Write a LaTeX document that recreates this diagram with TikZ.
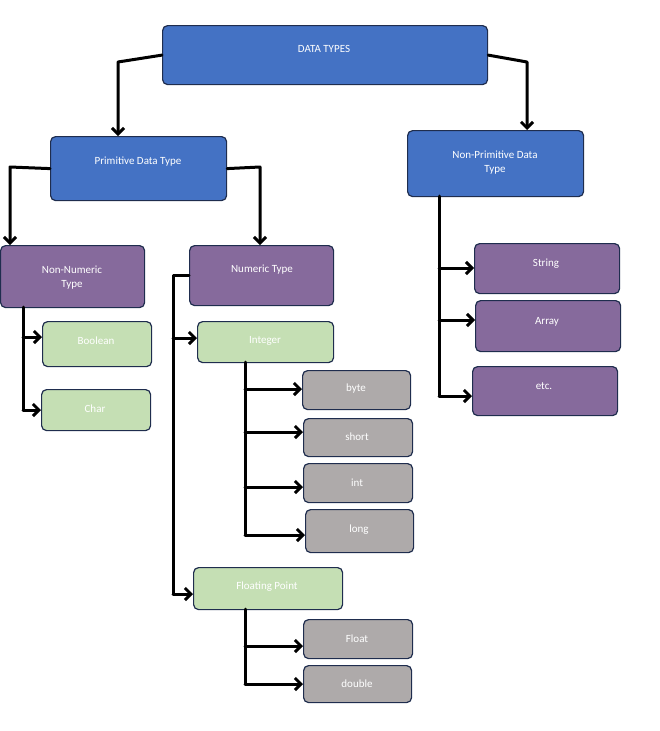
\documentclass[tikz,border=0pt]{standalone}
\usepackage{fontspec}
\setmainfont{Carlito}
\usetikzlibrary{arrows.meta}
\definecolor{bl}{HTML}{4472C4}
\definecolor{pu}{HTML}{866A9C}
\definecolor{gr}{HTML}{C5DFB4}
\definecolor{gy}{HTML}{AEAAAA}
\definecolor{bd}{HTML}{1F2D4E}
\begin{document}
\begin{tikzpicture}[x=1pt,y=-1pt,
 box/.style={draw=bd,line width=1.2pt,rounded corners=5pt,text=white,font=\fontsize{11}{13}\selectfont,align=center,inner sep=0pt},
 B/.style={box,fill=bl}, P/.style={box,fill=pu}, G/.style={box,fill=gr}, Y/.style={box,fill=gy},
 ln/.style={line width=3pt,line cap=round,line join=round},
 ar/.style={ln,-{Straight Barb[length=6pt,width=12pt]}}]
\useasboundingbox (0,0) rectangle (660,731);
\newcommand\bx[6]{\node[#1,minimum width={#4-#2},minimum height={#5-#3},anchor=north west] (#6) at (#2,#3) {};}
\bx{B}{162}{25}{487}{84}{dt}
\bx{B}{50}{136}{226}{200}{pr}
\bx{B}{407}{130}{583}{196}{np}
\bx{P}{0}{245}{144}{307}{nn}
\bx{P}{189}{245}{333}{305}{nu}
\bx{G}{42}{321}{151}{366}{bo}
\bx{G}{41}{389}{150}{430}{ch}
\bx{G}{197}{321}{333}{362}{in}
\bx{Y}{302}{370}{410}{409}{by}
\bx{Y}{303}{418}{412}{456}{sh}
\bx{Y}{303}{463}{412}{502}{it}
\bx{Y}{305}{509}{413}{552}{lo}
\bx{G}{193}{567}{342}{609}{fp}
\bx{Y}{303}{619}{412}{658}{fl}
\bx{Y}{303}{665}{411}{702}{do}
\bx{P}{474}{243}{619}{293}{st}
\bx{P}{475}{300}{620}{351}{ar}
\bx{P}{472}{366}{617}{415}{et}
\tikzset{lab/.style={text=white,font=\fontsize{11}{14}\selectfont,align=center}}
\node[lab] at (324,49) {DATA TYPES};
\node[lab] at (138,162) {Primitive Data Type};
\node[lab] at (495,163) {Non-Primitive Data\\Type};
\node[lab] at (72,278) {Non-Numeric\\Type};
\node[lab] at (262,270) {Numeric Type};
\node[lab] at (96,341) {Boolean};
\node[lab] at (95,409) {Char};
\node[lab] at (265,341) {Integer};
\node[lab] at (356,389) {byte};
\node[lab] at (357,437) {short};
\node[lab] at (357,483) {int};
\node[lab] at (359,530) {long};
\node[lab] at (267,587) {Floating Point};
\node[lab] at (357,639) {Float};
\node[lab] at (357,684) {double};
\node[lab] at (546,264) {String};
\node[lab] at (547,322) {Array};
\node[lab] at (544,386) {etc.};
% connectors
\draw[ar] (dt.west) -- (118,62) -- (pr.north -| 118,0);
\draw[ar] (dt.east) -- (527,62) -- (np.north -| 527,0);
\draw[ar] (pr.west) -- (10,167) -- (nn.north -| 10,0);
\draw[ar] (pr.east) -- (260,167) -- (nu.north -| 260,0);
\coordinate (npb) at (439,196);
\draw[ln] (npb) -- (439,396);
\draw[ar] (439,268) -- (st.west |- 0,268);
\draw[ar] (439,320) -- (ar.west |- 0,320);
\draw[ar] (439,396) -- (et.west |- 0,396);
\coordinate (nnb) at (23,307);
\draw[ln] (nnb) -- (23,410);
\draw[ar] (23,337) -- (bo.west |- 0,337);
\draw[ar] (23,410) -- (ch.west |- 0,410);
\draw[ln] (nu.west |- 0,275) -- (173,275) -- (173,594);
\draw[ar] (173,338) -- (in.west |- 0,338);
\draw[ar] (173,594) -- (fp.west |- 0,594);
\draw[ln] (245,362) -- (245,535);
\draw[ar] (245,389) -- (by.west |- 0,389);
\draw[ar] (245,432) -- (sh.west |- 0,432);
\draw[ar] (245,487) -- (it.west |- 0,487);
\draw[ar] (245,535) -- (lo.west |- 0,535);
\draw[ln] (245,609) -- (245,684);
\draw[ar] (245,646) -- (fl.west |- 0,646);
\draw[ar] (245,684) -- (do.west |- 0,684);
\end{tikzpicture}
\end{document}
